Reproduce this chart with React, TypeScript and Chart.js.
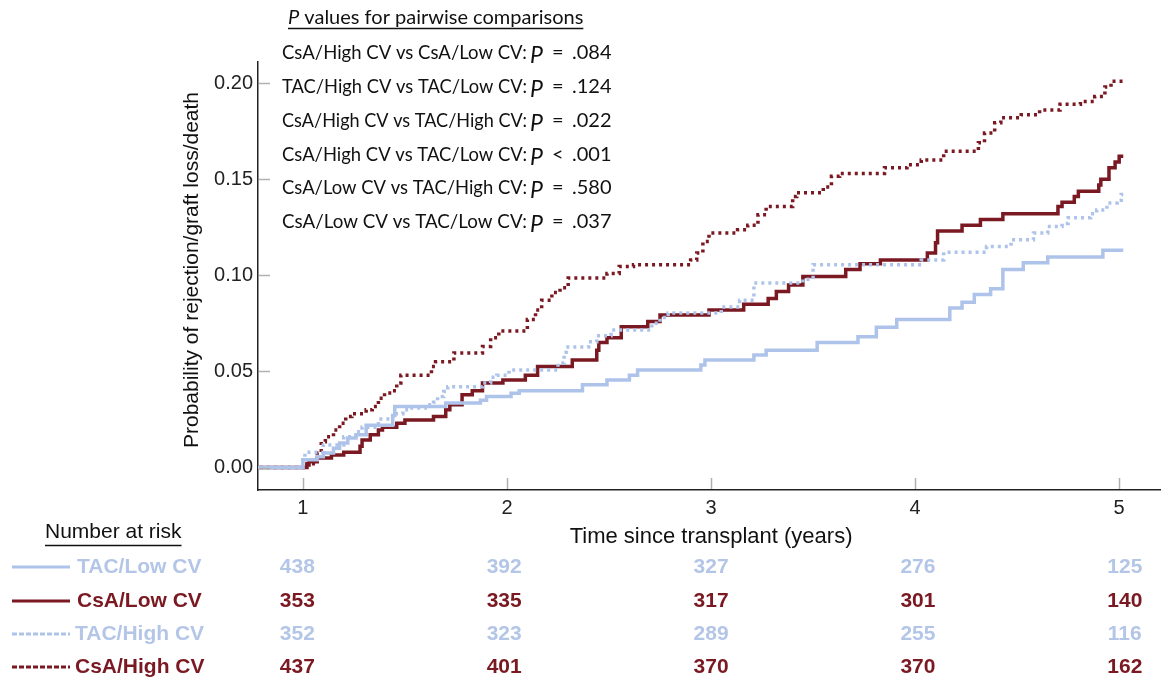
import React, { useEffect, useRef } from 'react';
import { Chart, registerables } from 'chart.js';

Chart.register(...registerables);

// ---- Data ----
const X_TICKS = [1, 2, 3, 4, 5];
const Y_TICKS = [0, 0.05, 0.1, 0.15, 0.2];

const TAC_LOW_T = [0, 1.0, 1.07, 1.1, 1.15, 1.18, 1.22, 1.26, 1.31, 1.44, 1.45, 1.7, 1.87, 1.9, 2.02, 2.06, 2.37, 2.49, 2.6, 2.64, 2.95, 2.97, 3.21, 3.27, 3.52, 3.72, 3.81, 3.91, 4.17, 4.23, 4.29, 4.37, 4.43, 4.53, 4.65, 4.92, 5.02];
const TAC_LOW_P = [0, 0.004, 0.0056, 0.0075, 0.01, 0.0127, 0.0153, 0.017, 0.022, 0.027, 0.0317, 0.0336, 0.035, 0.037, 0.0386, 0.04, 0.043, 0.0456, 0.048, 0.0508, 0.0534, 0.056, 0.0586, 0.061, 0.065, 0.068, 0.073, 0.077, 0.083, 0.086, 0.09, 0.093, 0.103, 0.1065, 0.1096, 0.113, 0.113];

const CSA_LOW_T = [0, 1.02, 1.03, 1.07, 1.14, 1.2, 1.28, 1.29, 1.33, 1.37, 1.39, 1.46, 1.5, 1.64, 1.7, 1.72, 1.78, 1.83, 1.88, 1.98, 2.09, 2.15, 2.32, 2.44, 2.45, 2.49, 2.56, 2.69, 2.75, 2.99, 3.16, 3.28, 3.32, 3.38, 3.45, 3.66, 3.73, 3.83, 4.06, 4.1, 4.11, 4.23, 4.32, 4.43, 4.7, 4.72, 4.78, 4.8, 4.9, 4.91, 4.95, 4.98, 5.0, 5.02];
const CSA_LOW_P = [0, 0.0013, 0.003, 0.005, 0.0065, 0.008, 0.011, 0.0143, 0.017, 0.0195, 0.021, 0.023, 0.0247, 0.0265, 0.03, 0.0326, 0.0378, 0.04, 0.044, 0.0456, 0.048, 0.0525, 0.056, 0.061, 0.065, 0.0675, 0.0733, 0.076, 0.0794, 0.082, 0.085, 0.088, 0.0916, 0.095, 0.0994, 0.103, 0.106, 0.108, 0.1116, 0.117, 0.123, 0.126, 0.129, 0.132, 0.1358, 0.138, 0.141, 0.1437, 0.147, 0.15, 0.156, 0.159, 0.162, 0.162];

const TAC_HIGH_T = [0, 1.0, 1.01, 1.1, 1.2, 1.26, 1.29, 1.37, 1.44, 1.49, 1.52, 1.6, 1.64, 1.66, 1.69, 1.71, 1.88, 1.92, 1.95, 2.01, 2.25, 2.28, 2.29, 2.4, 2.44, 2.51, 2.71, 2.75, 2.79, 3.05, 3.14, 3.21, 3.45, 3.5, 4.03, 4.14, 4.35, 4.47, 4.58, 4.65, 4.72, 4.75, 4.86, 4.89, 4.94, 4.99, 5.01, 5.02];
const TAC_HIGH_P = [0, 0.004, 0.008, 0.0117, 0.016, 0.0186, 0.021, 0.0252, 0.028, 0.03, 0.031, 0.0326, 0.034, 0.037, 0.0395, 0.042, 0.044, 0.047, 0.048, 0.0508, 0.0544, 0.06, 0.0627, 0.0655, 0.0686, 0.0716, 0.075, 0.078, 0.0804, 0.0835, 0.087, 0.096, 0.098, 0.1055, 0.108, 0.112, 0.115, 0.1185, 0.122, 0.1254, 0.127, 0.13, 0.132, 0.134, 0.1376, 0.139, 0.142, 0.142];

const CSA_HIGH_T = [0, 1.02, 1.07, 1.09, 1.11, 1.15, 1.18, 1.21, 1.24, 1.31, 1.34, 1.37, 1.4, 1.44, 1.46, 1.48, 1.63, 1.65, 1.74, 1.88, 1.92, 1.96, 2.1, 2.14, 2.17, 2.22, 2.26, 2.3, 2.49, 2.55, 2.62, 2.9, 2.93, 2.96, 2.99, 3.13, 3.18, 3.23, 3.27, 3.4, 3.42, 3.55, 3.59, 3.63, 3.85, 3.96, 4.03, 4.14, 4.31, 4.34, 4.39, 4.42, 4.52, 4.61, 4.71, 4.81, 4.88, 4.93, 4.96, 5.02];
const CSA_HIGH_P = [0, 0.002, 0.0075, 0.0134, 0.016, 0.0195, 0.023, 0.0265, 0.028, 0.03, 0.0317, 0.036, 0.0388, 0.04, 0.044, 0.048, 0.0525, 0.055, 0.0596, 0.063, 0.0675, 0.071, 0.077, 0.082, 0.087, 0.091, 0.0935, 0.0986, 0.101, 0.1046, 0.1055, 0.108, 0.1116, 0.1176, 0.122, 0.1237, 0.126, 0.1315, 0.1358, 0.141, 0.143, 0.146, 0.1515, 0.153, 0.156, 0.1576, 0.16, 0.1645, 0.169, 0.174, 0.1794, 0.182, 0.1836, 0.186, 0.189, 0.1905, 0.193, 0.198, 0.201, 0.201];

const SERIES_NAMES = ['TAC/Low CV', 'CsA/Low CV', 'TAC/High CV', 'CsA/High CV'];
const RISK_TIMES = [1, 2, 3, 4, 5];
const RISK_TAC_LOW = [438, 392, 327, 276, 125];
const RISK_CSA_LOW = [353, 335, 317, 301, 140];
const RISK_TAC_HIGH = [352, 323, 289, 255, 116];
const RISK_CSA_HIGH = [437, 401, 370, 370, 162];

const PAIR_LABELS = [
  'CsA/High CV vs CsA/Low CV:',
  'TAC/High CV vs TAC/Low CV:',
  'CsA/High CV vs TAC/High CV:',
  'CsA/High CV vs TAC/Low CV:',
  'CsA/Low CV vs TAC/High CV:',
  'CsA/Low CV vs TAC/Low CV:',
];
const PAIR_OPS = ['=', '=', '=', '<', '=', '='];
const PAIR_VALUES = ['.084', '.124', '.022', '.001', '.580', '.037'];

// ---- Styles ----
const LIGHT = '#aec3ea';
const LIGHT_TEXT = '#b4c6e7';
const DARK = '#7a1922';
const ARIAL = '"Liberation Sans", Arial, sans-serif';
const CALIBRI = 'Lato, "Liberation Sans", sans-serif';

const toPts = (t: number[], p: number[]) => t.map((v, i) => ({ x: v, y: p[i] }));

const overlay = {
  id: 'overlay',
  afterDraw(chart: any) {
    const { ctx, chartArea, scales } = chart;
    const xs = scales.x;
    const ys = scales.y;
    ctx.save();
    // inner tick marks
    ctx.strokeStyle = '#b0b0b0';
    ctx.lineWidth = 1.5;
    Y_TICKS.forEach((v) => {
      const py = Math.round(ys.getPixelForValue(v)) + 0.5;
      ctx.beginPath();
      ctx.moveTo(chartArea.left + 1, py);
      ctx.lineTo(chartArea.left + 12, py);
      ctx.stroke();
    });
    X_TICKS.forEach((v) => {
      const px = Math.round(xs.getPixelForValue(v)) + 0.5;
      ctx.beginPath();
      ctx.moveTo(px, chartArea.bottom - 12);
      ctx.lineTo(px, chartArea.bottom - 1);
      ctx.stroke();
    });

    // axis titles
    ctx.fillStyle = '#111';
    ctx.font = `22px ${ARIAL}`;
    ctx.textAlign = 'center';
    ctx.textBaseline = 'middle';
    ctx.fillText('Time since transplant (years)', (xs.getPixelForValue(1) + xs.getPixelForValue(5)) / 2, 537);
    ctx.save();
    ctx.translate(192, 270);
    ctx.rotate(-Math.PI / 2);
    ctx.font = `21px ${ARIAL}`;
    ctx.fillText('Probability of rejection/graft loss/death', 0, 0);
    ctx.restore();

    // P-values block
    ctx.textAlign = 'left';
    ctx.textBaseline = 'middle';
    ctx.fillStyle = '#111';
    const hx = 288;
    const hy = 18;
    const headRest = ' values for pairwise comparisons';
    ctx.font = `italic 20px ${CALIBRI}`;
    const pw = ctx.measureText('P').width;
    ctx.font = `20px ${CALIBRI}`;
    const restW = Math.min(ctx.measureText(headRest).width, 298 - pw);
    ctx.font = `italic 20px ${CALIBRI}`;
    ctx.fillText('P', hx, hy);
    ctx.font = `20px ${CALIBRI}`;
    ctx.fillText(headRest, hx + pw, hy, restW);
    ctx.strokeStyle = '#111';
    ctx.lineWidth = 1.3;
    ctx.beginPath();
    ctx.moveTo(hx, 28.5);
    ctx.lineTo(hx + pw + restW, 28.5);
    ctx.stroke();

    const rowY = [53, 87, 121, 155, 188, 222];
    PAIR_LABELS.forEach((lab, i) => {
      const yy = rowY[i];
      ctx.font = `20px ${CALIBRI}`;
      ctx.fillText(lab, 282, yy, 245);
      ctx.font = `italic 23px ${CALIBRI}`;
      ctx.fillText('P', 530, yy + 3);
      ctx.font = `20px ${CALIBRI}`;
      ctx.fillText(PAIR_OPS[i], 552, yy);
      ctx.fillText(PAIR_VALUES[i], 572, yy);
    });

    // Number at risk table
    ctx.font = `21px ${ARIAL}`;
    ctx.fillStyle = '#111';
    ctx.fillText('Number at risk', 45, 532);
    const nw = ctx.measureText('Number at risk').width;
    ctx.beginPath();
    ctx.lineWidth = 1.5;
    ctx.moveTo(45, 545.5);
    ctx.lineTo(45 + nw, 545.5);
    ctx.stroke();

    const rows = [RISK_TAC_LOW, RISK_CSA_LOW, RISK_TAC_HIGH, RISK_CSA_HIGH];
    const rowColors = [LIGHT_TEXT, DARK, LIGHT_TEXT, DARK];
    const lineColors = [LIGHT, DARK, LIGHT, DARK];
    const dashes = [[], [], [5, 2], [5, 2]];
    const ry = [567, 601, 634, 667];
    rows.forEach((vals, i) => {
      const yy = ry[i];
      ctx.strokeStyle = lineColors[i];
      ctx.lineWidth = 3;
      ctx.setLineDash(dashes[i]);
      ctx.beginPath();
      ctx.moveTo(12, yy);
      ctx.lineTo(70, yy);
      ctx.stroke();
      ctx.setLineDash([]);
      ctx.fillStyle = rowColors[i];
      ctx.font = `bold 21px ${ARIAL}`;
      ctx.textAlign = 'left';
      ctx.fillText(SERIES_NAMES[i], i >= 2 ? 75 : 77, yy);
      ctx.textAlign = 'center';
      vals.forEach((n, k) => {
        const t = RISK_TIMES[k];
        const cx = xs.getPixelForValue(t) + (t - 3) * 2.8;
        ctx.fillText(String(n), cx, yy);
      });
    });
    ctx.restore();
  },
};

export default function App() {
  const ref = useRef<HTMLCanvasElement>(null);
  useEffect(() => {
    const canvas = ref.current;
    if (!canvas) return;
    const chart = new Chart(canvas, {
      type: 'line',
      data: {
        datasets: [
          {
            label: SERIES_NAMES[0],
            data: toPts(TAC_LOW_T, TAC_LOW_P),
            borderColor: LIGHT,
            borderWidth: 3.5,
            stepped: 'before',
            pointRadius: 0,
            fill: false,
          },
          {
            label: SERIES_NAMES[2],
            data: toPts(TAC_HIGH_T, TAC_HIGH_P),
            borderColor: LIGHT,
            borderWidth: 3.5,
            borderDash: [3, 4],
            stepped: 'before',
            pointRadius: 0,
            fill: false,
          },
          {
            label: SERIES_NAMES[1],
            data: toPts(CSA_LOW_T, CSA_LOW_P),
            borderColor: DARK,
            borderWidth: 3.5,
            stepped: 'before',
            pointRadius: 0,
            fill: false,
          },
          {
            label: SERIES_NAMES[3],
            data: toPts(CSA_HIGH_T, CSA_HIGH_P),
            borderColor: DARK,
            borderWidth: 3.5,
            borderDash: [3, 4],
            stepped: 'before',
            pointRadius: 0,
            fill: false,
          },
        ],
      },
      options: {
        responsive: false,
        animation: false,
        devicePixelRatio: 1,
        layout: { padding: { left: 0, right: 3, top: 62, bottom: 152 } },
        plugins: { legend: { display: false }, tooltip: { enabled: false } },
        scales: {
          x: {
            type: 'linear',
            min: 0.78,
            max: 5.2,
            grid: { display: false, drawTicks: false },
            border: { display: true, color: '#222', width: 1.5 },
            afterBuildTicks: (s: any) => {
              s.ticks = X_TICKS.map((v) => ({ value: v }));
            },
            afterFit: (s: any) => {
              s.height = 40;
            },
            ticks: {
              padding: 6,
              color: '#222',
              font: { family: ARIAL, size: 20 },
              maxRotation: 0,
              autoSkip: false,
              callback: (v: any) => String(v),
            },
          },
          y: {
            type: 'linear',
            min: -0.0117,
            max: 0.211,
            grid: { display: false, drawTicks: false },
            border: { display: true, color: '#222', width: 1.5 },
            afterBuildTicks: (s: any) => {
              s.ticks = Y_TICKS.map((v) => ({ value: v }));
            },
            afterFit: (s: any) => {
              s.width = 258;
            },
            ticks: {
              padding: 5,
              color: '#222',
              font: { family: ARIAL, size: 20 },
              autoSkip: false,
              callback: (v: any) => Number(v).toFixed(2),
            },
          },
        },
      },
      plugins: [overlay],
    } as any);
    return () => chart.destroy();
  }, []);
  return (
    <div style={{ position: 'fixed', left: 0, top: 0, width: 1163, height: 682, background: '#fff' }}>
      <canvas ref={ref} width={1163} height={682} style={{ width: 1163, height: 682, display: 'block' }} />
    </div>
  );
}
